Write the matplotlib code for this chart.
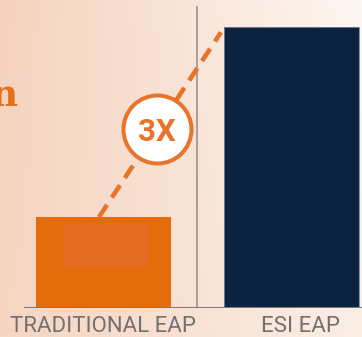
import matplotlib
matplotlib.use('Agg')
import matplotlib.pyplot as plt
import numpy as np

# Data
categories = ['TRADITIONAL EAP', 'ESI EAP']
values = [1.0, 3.09]
bar_colors = ['#E46C0A', '#0B2341']
label_shift = [0.0, 0.048]
trend_x = [-0.024, 0.625]
trend_y = [1.0, 3.03]
badge_x, badge_y = 0.285, 1.967
badge_text = '3X'

W, H = 362, 337
fig = plt.figure(figsize=(W / 100, H / 100), dpi=100)

# background gradient
bg = fig.add_axes([0, 0, 1, 1])
tl = np.array([245, 210, 190]) / 255
tr = np.array([253, 247, 242]) / 255
bl = np.array([246, 213, 194]) / 255
br = np.array([251, 238, 229]) / 255
u = np.linspace(0, 1, W)[None, :, None]
v = np.linspace(0, 1, H)[:, None, None]
img = (1 - v) * ((1 - u) * tl + u * tr) + v * ((1 - u) * bl + u * br)
bg.imshow(img, aspect='auto', extent=[0, 1, 0, 1])
bg.set_axis_off()

base = 29 / H
ax = fig.add_axes([0, base, 1, 1 - base])
ax.set_facecolor('none')
ax.set_xlim(-0.5505, 1.375)
ax.set_ylim(0, 308 / 91)

x = np.arange(len(categories))
bw = 0.718
ax.bar(x, values, width=bw, color=bar_colors, zorder=2)
ax.bar(x[1], values[1], width=bw, color='none', edgecolor='#7d8796',
       linewidth=0.6, zorder=3)

# faint inner panels
ax.bar(x[0] + 0.01, 0.484 * values[0], bottom=0.45 * values[0],
       width=0.452, color='#E46B22', zorder=3)
ax.bar(x[1], 0.16 * values[1], bottom=0.818 * values[1],
       width=0.452, color='#0A2240', zorder=3)

# separator and baseline
ax.plot([0.5, 0.5], [0, 3.31], color='#9C928D', lw=1.2, zorder=1)
ax.axhline(0, xmin=25 / W, xmax=1, color='#7E7976', lw=1.5, zorder=4)

# dashed trend + badge
ax.plot(trend_x, trend_y, color='#E8732A', lw=3.3, dashes=(3.2, 1.9),
        solid_capstyle='butt', dash_capstyle='butt', zorder=4)
ax.scatter([badge_x], [badge_y], s=2400, facecolor='white',
           edgecolor='#E8732A', linewidth=2.9, zorder=5)
ax.text(badge_x, badge_y, badge_text, ha='center', va='center_baseline',
        fontsize=22.5, fontweight='bold', family='Roboto', color='#E8732A',
        zorder=6)

# heading fragment, clipped at the left edge as in the source
ax.text(-0.5505 + 18 / 188, (308 - 106) / 91, 'n', ha='right', va='baseline',
        fontsize=27, fontweight='bold', family='DejaVu Serif', color='#E4701E',
        zorder=6)

ax.set_xticks(x + np.array(label_shift))
ax.set_xticklabels(categories, family='Roboto', fontsize=16, color='#73706D')
ax.tick_params(axis='x', length=0, pad=6)
ax.set_yticks([])
for s in ax.spines.values():
    s.set_visible(False)

fig.savefig('out.png', dpi=100)
